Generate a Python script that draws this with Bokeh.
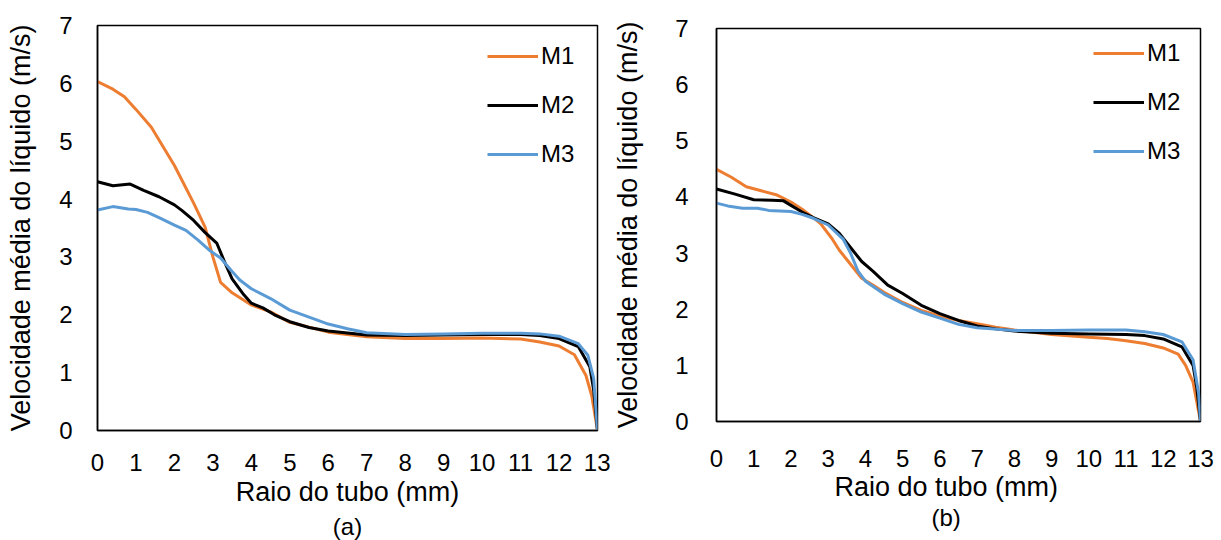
from bokeh.plotting import figure
from bokeh.models import Title, FixedTicker, Legend, LegendItem
from bokeh.embed import file_html
from bokeh.resources import INLINE

# ---- data: panel (a) ----
a_m1_x = [0, 0.4, 0.7, 1.0, 1.4, 2.0, 2.5, 2.8, 3.0, 3.2, 3.5, 4.0, 4.5, 5.0, 6.0, 7.0, 8.0, 9.0, 10.0, 11.0, 11.5, 12.0, 12.4, 12.7, 12.85, 13.0]
a_m1_y = [6.03, 5.9, 5.77, 5.55, 5.24, 4.58, 3.93, 3.51, 3.0, 2.56, 2.38, 2.17, 2.05, 1.87, 1.70, 1.62, 1.59, 1.59, 1.60, 1.58, 1.53, 1.46, 1.31, 0.95, 0.6, 0.0]

a_m2_x = [0, 0.4, 0.85, 1.2, 1.6, 2.0, 2.2, 2.5, 2.8, 3.1, 3.3, 3.5, 3.8, 4.0, 4.3, 4.6, 5.0, 5.5, 6.0, 7.0, 8.0, 9.0, 10.0, 11.0, 11.5, 12.0, 12.5, 12.8, 12.9, 13.0]
a_m2_y = [4.30, 4.23, 4.26, 4.15, 4.04, 3.90, 3.80, 3.63, 3.42, 3.24, 2.92, 2.62, 2.35, 2.20, 2.12, 2.00, 1.88, 1.78, 1.72, 1.65, 1.64, 1.65, 1.66, 1.66, 1.64, 1.59, 1.45, 1.10, 0.70, 0.0]

a_m3_x = [0, 0.4, 0.8, 1.0, 1.3, 1.6, 2.0, 2.3, 2.6, 2.9, 3.2, 3.5, 3.7, 4.0, 4.5, 5.0, 5.5, 6.0, 6.5, 7.0, 8.0, 9.0, 10.0, 11.0, 11.5, 12.0, 12.5, 12.75, 12.9, 13.0]
a_m3_y = [3.81, 3.87, 3.83, 3.82, 3.77, 3.68, 3.55, 3.46, 3.30, 3.12, 2.98, 2.75, 2.60, 2.45, 2.28, 2.08, 1.96, 1.84, 1.76, 1.69, 1.66, 1.67, 1.68, 1.68, 1.67, 1.63, 1.50, 1.30, 0.90, 0.0]

# ---- data: panel (b) ----
b_m1_x = [0, 0.4, 0.8, 1.2, 1.6, 2.0, 2.3, 2.6, 2.8, 3.1, 3.3, 3.6, 3.9, 4.2, 4.5, 5.0, 5.5, 6.0, 6.5, 7.0, 7.5, 8.0, 9.0, 10.0, 10.5, 11.0, 11.5, 12.0, 12.4, 12.6, 12.8, 13.0]
b_m1_y = [4.49, 4.35, 4.18, 4.11, 4.04, 3.91, 3.78, 3.63, 3.52, 3.26, 3.05, 2.80, 2.55, 2.43, 2.30, 2.12, 1.98, 1.88, 1.80, 1.74, 1.68, 1.63, 1.55, 1.50, 1.48, 1.44, 1.39, 1.31, 1.20, 1.00, 0.70, 0.0]

b_m2_x = [0, 0.5, 1.0, 1.5, 1.8, 2.0, 2.3, 2.6, 3.0, 3.3, 3.6, 3.9, 4.2, 4.6, 5.0, 5.5, 6.0, 6.5, 7.0, 7.5, 8.0, 9.0, 10.0, 11.0, 11.5, 12.0, 12.5, 12.8, 12.9, 13.0]
b_m2_y = [4.14, 4.05, 3.95, 3.94, 3.93, 3.85, 3.73, 3.63, 3.52, 3.35, 3.10, 2.85, 2.68, 2.43, 2.28, 2.07, 1.92, 1.80, 1.70, 1.65, 1.61, 1.57, 1.56, 1.55, 1.53, 1.47, 1.33, 1.00, 0.60, 0.0]

b_m3_x = [0, 0.3, 0.7, 1.1, 1.4, 2.0, 2.3, 2.6, 3.0, 3.4, 3.6, 3.8, 4.0, 4.5, 5.0, 5.5, 6.0, 6.5, 7.0, 8.0, 9.0, 10.0, 11.0, 11.5, 12.0, 12.5, 12.8, 12.95, 13.0]
b_m3_y = [3.89, 3.84, 3.80, 3.80, 3.76, 3.74, 3.69, 3.62, 3.50, 3.25, 3.00, 2.68, 2.50, 2.27, 2.10, 1.95, 1.84, 1.73, 1.67, 1.62, 1.62, 1.63, 1.63, 1.60, 1.55, 1.42, 1.10, 0.50, 0.0]

series_names = ["M1", "M2", "M3"]
colors = ["#ED7D31", "#000000", "#5B9BD5"]
x_ticks = list(range(0, 14))
y_ticks = list(range(0, 8))
x_title = "Raio do tubo (mm)"
y_title = "Velocidade média do líquido (m/s)"

FONT = "Liberation Sans"


def make_panel(width, borders, series, xstand, ystand, ylab_standoff, leg_loc):
    bl, br, bt, bb = borders
    p = figure(width=width, height=540, x_range=(0, 13), y_range=(0, 7),
               output_backend="svg", toolbar_location=None,
               min_border_left=bl, min_border_right=br,
               min_border_top=bt, min_border_bottom=bb,
               background_fill_color="white", border_fill_color="white")
    p.grid.visible = False
    p.outline_line_color = "black"
    p.outline_line_width = 1.5
    for ax in (p.xaxis[0], p.yaxis[0]):
        ax.axis_line_color = "black"
        ax.axis_line_width = 1.5
        ax.major_tick_line_color = None
        ax.minor_tick_line_color = None
        ax.major_tick_out = 0
        ax.major_tick_in = 0
        ax.minor_tick_out = 0
        ax.minor_tick_in = 0
        ax.major_label_text_font = FONT
        ax.major_label_text_font_size = "24px"
        ax.major_label_text_color = "black"
        ax.axis_label_text_font = FONT
        ax.axis_label_text_font_size = "27px"
        ax.axis_label_text_font_style = "normal"
        ax.axis_label_text_color = "black"
    p.xaxis.major_label_standoff = xstand
    p.yaxis.major_label_standoff = ystand
    p.xaxis.ticker = FixedTicker(ticks=x_ticks)
    p.yaxis.ticker = FixedTicker(ticks=y_ticks)
    p.yaxis.axis_label = y_title
    p.yaxis.axis_label_standoff = ylab_standoff

    items = []
    for (xs, ys), name, c in zip(series, series_names, colors):
        r = p.line(xs, ys, line_color=c, line_width=3)
        items.append(LegendItem(label=name, renderers=[r]))
    leg = Legend(items=items, location=leg_loc,
                 border_line_color=None, background_fill_alpha=0,
                 label_text_font=FONT, label_text_font_size="24px",
                 label_text_color="black",
                 glyph_width=51, glyph_height=26, label_height=26,
                 label_standoff=3, spacing=21,
                 margin=0, padding=0)
    p.add_layout(leg)
    return p


# panel (a): frame x 97..597, y 25..431
pa = make_panel(610, (97, 13, 25, 109),
                [(a_m1_x, a_m1_y), (a_m2_x, a_m2_y), (a_m3_x, a_m3_y)],
                23, 25, 20, (390, 262))
pa.xaxis.axis_label = x_title
pa.xaxis.axis_label_standoff = 3
pa.add_layout(Title(text="(a)", align="center", text_font=FONT,
                    text_font_size="24px", text_font_style="normal",
                    text_color="black", standoff=2), "below")

# panel (b): frame x 712..1200, y 28..421
pb = make_panel(611, (102, 21, 28, 119),
                [(b_m1_x, b_m1_y), (b_m2_x, b_m2_y), (b_m3_x, b_m3_y)],
                28, 28, 29, (377, 256))
pb.add_layout(Title(text=x_title, align="left", offset=118, text_font=FONT,
                    text_font_size="27px", text_font_style="normal",
                    text_color="black", standoff=0), "below")
pb.add_layout(Title(text="(b)", align="left", offset=215, text_font=FONT,
                    text_font_size="24px", text_font_style="normal",
                    text_color="black", standoff=0), "below")

# the two panels are independent roots laid side by side
SIDE_BY_SIDE = """{% block postamble %}
<style>
  body { display: flex !important; flex-direction: row; align-items: flex-start; }
  body > div { flex: none; }
</style>
{% endblock %}"""

open("out.html", "w").write(file_html([pa, pb], INLINE, template=SIDE_BY_SIDE))
